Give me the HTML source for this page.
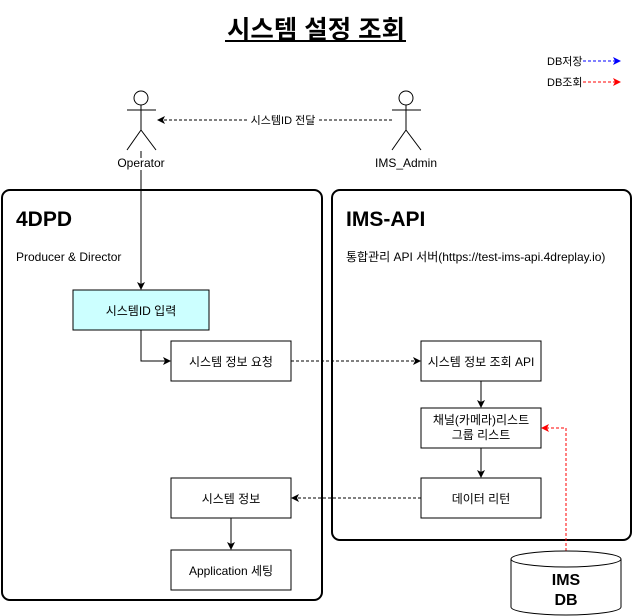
<!DOCTYPE html>
<html><head><meta charset="utf-8"><style>
html,body{margin:0;padding:0;background:#fff;width:633px;height:616px;overflow:hidden}
svg text{font-family:"Liberation Sans","Noto Sans CJK KR",sans-serif}
</style></head><body>
<svg width="633" height="616" viewBox="0 0 633 616" xmlns="http://www.w3.org/2000/svg">
<defs>
<marker id="ak" markerWidth="8" markerHeight="8" refX="7" refY="4" orient="auto" markerUnits="userSpaceOnUse"><path d="M0,0 L8,4 L0,8 L2,4 Z" fill="#000"/></marker>
<marker id="ab" markerWidth="8" markerHeight="8" refX="7" refY="4" orient="auto" markerUnits="userSpaceOnUse"><path d="M0,0 L8,4 L0,8 L2,4 Z" fill="#00f"/></marker>
<marker id="ar" markerWidth="8" markerHeight="8" refX="7" refY="4" orient="auto" markerUnits="userSpaceOnUse"><path d="M0,0 L8,4 L0,8 L2,4 Z" fill="#f00"/></marker>
</defs>
<text x="316" y="38" text-anchor="middle" font-size="25" font-weight="bold" textLength="178" lengthAdjust="spacingAndGlyphs">시스템 설정 조회</text>
<line x1="225" y1="41" x2="406" y2="41" stroke="#000" stroke-width="2"/>
<text x="547" y="65" font-size="11" text-anchor="start">DB저장</text>
<line x1="583" y1="61" x2="620" y2="61" stroke="#00f" stroke-dasharray="3,2" marker-end="url(#ab)"/>
<text x="547" y="86" font-size="11">DB조회</text>
<line x1="583" y1="82" x2="620" y2="82" stroke="#f00" stroke-dasharray="3,2" marker-end="url(#ar)"/>
<g stroke="#000" fill="none" stroke-width="1">
<circle cx="141" cy="98" r="7"/><line x1="141" y1="105" x2="141" y2="130"/><line x1="127" y1="110" x2="156" y2="110"/><line x1="141" y1="130" x2="127" y2="150"/><line x1="141" y1="130" x2="156" y2="150"/>
<circle cx="406" cy="98" r="7"/><line x1="406" y1="105" x2="406" y2="130"/><line x1="392" y1="110" x2="421" y2="110"/><line x1="406" y1="130" x2="392" y2="150"/><line x1="406" y1="130" x2="421" y2="150"/>
</g>
<text x="141" y="167" font-size="12" text-anchor="middle">Operator</text>
<text x="406" y="167" font-size="12" text-anchor="middle">IMS_Admin</text>
<line x1="392" y1="120" x2="158" y2="120" stroke="#000" stroke-dasharray="3,2" marker-end="url(#ak)"/>
<rect x="247" y="112" width="70" height="16" fill="#fff"/>
<text x="283" y="124" font-size="11" text-anchor="middle">시스템ID 전달</text>
<line x1="141" y1="151" x2="141" y2="158" stroke="#000"/>
<rect x="2" y="190" width="320" height="410" rx="8" fill="none" stroke="#000" stroke-width="2"/>
<rect x="332" y="190" width="299" height="350" rx="8" fill="none" stroke="#000" stroke-width="2"/>
<text x="16" y="226" font-size="21" font-weight="bold">4DPD</text>
<text x="16" y="261" font-size="12">Producer &amp; Director</text>
<text x="346" y="226" font-size="21" font-weight="bold">IMS-API</text>
<text x="346" y="261" font-size="12">통합관리 API 서버(https://test-ims-api.4dreplay.io)</text>
<line x1="141" y1="170" x2="141" y2="289" stroke="#000" marker-end="url(#ak)"/>
<g stroke="#000" fill="#fff">
<rect x="73" y="290" width="136" height="40" fill="#ccffff"/>
<rect x="171" y="341" width="120" height="40"/>
<rect x="421" y="341" width="120" height="40"/>
<rect x="421" y="408" width="120" height="40"/>
<rect x="421" y="478" width="120" height="40"/>
<rect x="171" y="478" width="120" height="40"/>
<rect x="171" y="550" width="120" height="40"/>
</g>
<polyline points="141,330 141,361 170,361" fill="none" stroke="#000" marker-end="url(#ak)"/>
<line x1="291" y1="361" x2="420" y2="361" stroke="#000" stroke-dasharray="3,2" marker-end="url(#ak)"/>
<line x1="481" y1="381" x2="481" y2="407" stroke="#000" marker-end="url(#ak)"/>
<line x1="481" y1="448" x2="481" y2="477" stroke="#000" marker-end="url(#ak)"/>
<line x1="421" y1="498" x2="292" y2="498" stroke="#000" stroke-dasharray="3,2" marker-end="url(#ak)"/>
<line x1="231" y1="518" x2="231" y2="549" stroke="#000" marker-end="url(#ak)"/>
<polyline points="566,551 566,428 542,428" fill="none" stroke="#f00" stroke-dasharray="3,2" marker-end="url(#ar)"/>
<g font-size="12" text-anchor="middle">
<text x="141" y="315">시스템ID 입력</text>
<text x="231" y="366">시스템 정보 요청</text>
<text x="481" y="366">시스템 정보 조회 API</text>
<text x="481" y="424">채널(카메라)리스트</text>
<text x="481" y="439">그룹 리스트</text>
<text x="481" y="503">데이터 리턴</text>
<text x="231" y="503">시스템 정보</text>
<text x="231" y="575">Application 세팅</text>
</g>
<path d="M511,559 A55,8 0 0 1 621,559 L621,607 A55,8 0 0 1 511,607 Z" fill="#fff" stroke="#000"/>
<path d="M511,559 A55,8 0 0 0 621,559" fill="none" stroke="#000"/>
<text x="566" y="585" font-size="16" font-weight="bold" text-anchor="middle">IMS</text>
<text x="566" y="605" font-size="16" font-weight="bold" text-anchor="middle">DB</text>
</svg>
</body></html>
